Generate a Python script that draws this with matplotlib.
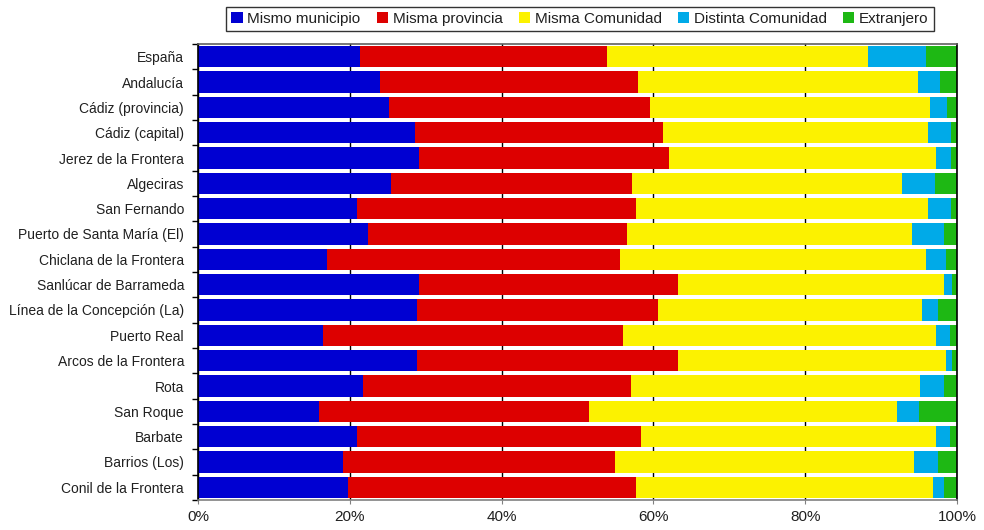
import numpy as np
import matplotlib
matplotlib.use("Agg")
import matplotlib.pyplot as plt
from matplotlib.ticker import FixedLocator, PercentFormatter

plt.rcParams['font.family'] = ['Liberation Sans', 'DejaVu Sans']

# ---- data (percent of residents by birthplace) ----
places = ["España", "Andalucía", "Cádiz (provincia)", "Cádiz (capital)",
          "Jerez de la Frontera", "Algeciras", "San Fernando",
          "Puerto de Santa María (El)", "Chiclana de la Frontera",
          "Sanlúcar de Barrameda", "Línea de la Concepción (La)",
          "Puerto Real", "Arcos de la Frontera", "Rota", "San Roque",
          "Barbate", "Barrios (Los)", "Conil de la Frontera"]

mismo_municipio = [21.3, 24.0, 25.1, 28.6, 29.1, 25.4, 20.9, 22.4, 17.0,
                   29.1, 28.9, 16.5, 28.9, 21.8, 15.9, 20.9, 19.1, 19.7]
misma_provincia = [32.6, 34.0, 34.4, 32.7, 33.0, 31.8, 36.8, 34.1, 38.6,
                   34.2, 31.7, 39.5, 34.4, 35.2, 35.6, 37.5, 35.9, 38.0]
misma_comunidad = [34.4, 36.9, 37.0, 34.9, 35.1, 35.6, 38.5, 37.6, 40.3,
                   35.0, 34.8, 41.2, 35.3, 38.1, 40.6, 38.8, 39.4, 39.2]
distinta_comunidad = [7.6, 2.8, 2.2, 3.0, 2.0, 4.3, 3.0, 4.2, 2.7,
                      1.1, 2.1, 1.9, 0.8, 3.2, 2.9, 1.9, 3.1, 1.4]
extranjero = [4.1, 2.3, 1.3, 0.8, 0.8, 2.9, 0.8, 1.7, 1.4,
              0.6, 2.5, 0.9, 0.6, 1.7, 5.0, 0.9, 2.5, 1.7]

series = ["Mismo municipio", "Misma provincia", "Misma Comunidad",
          "Distinta Comunidad", "Extranjero"]
colors = ["#0000D2", "#DD0000", "#FCF200", "#00AAE8", "#1EB814"]

data = np.array([mismo_municipio, misma_provincia, misma_comunidad,
                 distinta_comunidad, extranjero])
data = data / data.sum(axis=0) * 100

fig = plt.figure(figsize=(9.84, 5.30), dpi=100)
ax = fig.add_axes([198/984, 30/530, 759/984, 456/530])

y = np.arange(len(places))
left = np.zeros(len(places))
for i in range(len(series)):
    ax.barh(y, data[i], left=left, height=0.84, color=colors[i],
            label=series[i], zorder=2)
    left += data[i]

ax.set_ylim(len(places) - 0.5, -0.5)
ax.set_xlim(0, 100)

ax.set_yticks(y)
ax.set_yticklabels(places, fontsize=10, color='#202020')
ax.yaxis.set_minor_locator(FixedLocator(np.arange(-0.5, len(places), 1)))
ax.tick_params(axis='y', which='major', length=0, pad=10)
ax.tick_params(axis='y', which='minor', length=4, width=1, color='black')

ax.set_xticks(np.arange(0, 101, 20))
ax.xaxis.set_major_formatter(PercentFormatter(decimals=0))
ax.tick_params(axis='x', labelsize=11, length=3, color='#808080', pad=4,
               labelcolor='#202020')

ax.grid(axis='x', color='black', linewidth=1, zorder=0)
ax.set_axisbelow(True)

ax.spines['left'].set_color('black')
ax.spines['right'].set_color('black')
ax.spines['top'].set_color('#606060')
ax.spines['bottom'].set_color('#808080')
for s in ax.spines.values():
    s.set_linewidth(1.2)

leg = ax.legend(loc='center', bbox_to_anchor=(0.503, 1.055), ncol=5,
                frameon=True, fancybox=False, fontsize=11,
                handlelength=0.75, handleheight=0.75, handletextpad=0.3,
                columnspacing=1.05, borderpad=0.35, borderaxespad=0)
leg.get_frame().set_edgecolor('black')
leg.get_frame().set_linewidth(1)
for t in leg.get_texts():
    t.set_color('#202020')

plt.savefig("out.png", dpi=100)
